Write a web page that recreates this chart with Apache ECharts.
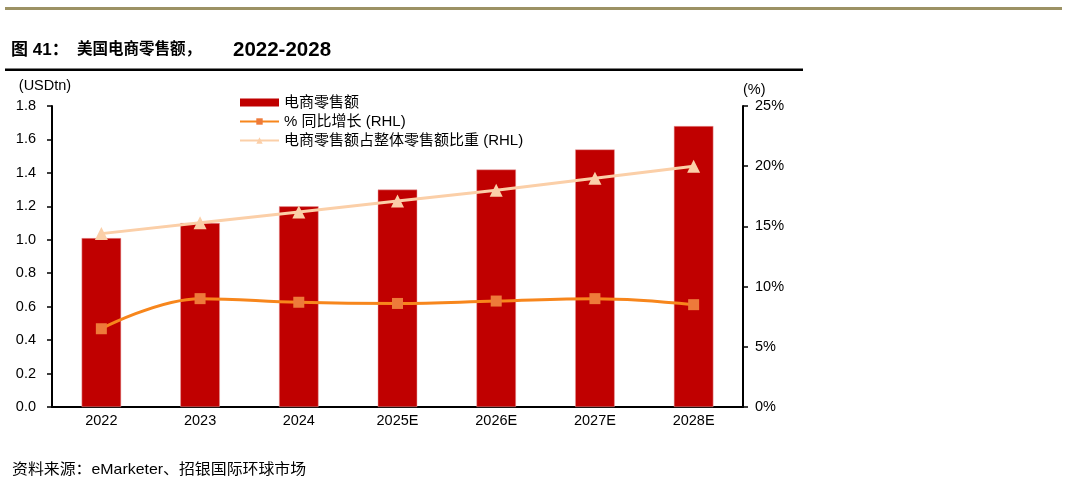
<!DOCTYPE html>
<html>
<head>
<meta charset="utf-8">
<script src="https://cdn.jsdelivr.net/npm/echarts@6/dist/echarts.min.js"></script>
<style>
  html, body { margin: 0; padding: 0; background: #fff; }
  #chart { width: 1068px; height: 487px; }
</style>
</head>
<body>
<div id="chart"></div>
<script>
// 数据
var years = ['2022', '2023', '2024', '2025E', '2026E', '2027E', '2028E'];
var ecomSales = [1.01, 1.10, 1.20, 1.30, 1.42, 1.54, 1.68];        // USDtn
var yoyGrowth = [6.5, 9.0, 8.7, 8.6, 8.8, 9.0, 8.5];              // %
var shareOfRetail = [14.4, 15.3, 16.2, 17.1, 18.0, 19.0, 20.0];   // %
var leftTicks = { min: 0, max: 1.8, step: 0.2 };
var rightTicks = { min: 0, max: 25, step: 5 };

var FONT = '"Liberation Sans", Arial, "Noto Sans CJK SC", sans-serif';

var myChart = echarts.init(document.getElementById('chart'));

var option = {
  backgroundColor: '#fff',
  animation: false,
  textStyle: { fontFamily: FONT },
  graphic: [
    // 顶部横线
    { type: 'rect', shape: { x: 5, y: 7, width: 1057, height: 3 }, style: { fill: '#9c9264' } },
    // 标题
    { type: 'text', x: 11, y: 50, style: { text: '图 41：', font: 'bold 17px ' + FONT, fill: '#000', textVerticalAlign: 'middle' } },
    { type: 'text', x: 77, y: 50, style: { text: '美国电商零售额，', font: 'bold 15.5px ' + FONT, fill: '#000', textVerticalAlign: 'middle' } },
    { type: 'text', x: 233, y: 50, style: { text: '2022-2028', font: 'bold 20.5px ' + FONT, fill: '#000', textVerticalAlign: 'middle' } },
    // 标题下横线
    { type: 'rect', shape: { x: 5, y: 68.5, width: 798, height: 2.5 }, style: { fill: '#000' } },
    // 资料来源
    {
      type: 'text', x: 12, y: 470, scaleX: 1.06,
      style: { text: '资料来源：eMarketer、招银国际环球市场', font: '15px ' + FONT, fill: '#000', textVerticalAlign: 'middle' }
    }
  ],
  legend: {
    orient: 'vertical',
    left: 234,
    top: 90,
    itemGap: 4,
    itemWidth: 39,
    itemHeight: 8,
    textStyle: { fontSize: 15, color: '#000', fontFamily: FONT },
    data: [
      { name: '电商零售额', icon: 'rect', itemStyle: { borderWidth: 0 } },
      '% 同比增长 (RHL)',
      '电商零售额占整体零售额比重 (RHL)'
    ]
  },
  grid: { left: 52, right: 325, top: 106, bottom: 80 },
  xAxis: {
    type: 'category',
    data: years,
    boundaryGap: true,
    axisLine: { lineStyle: { color: '#000', width: 2 } },
    axisTick: { interval: 0, length: 5, lineStyle: { color: '#000', width: 1.5 } },
    axisLabel: { color: '#000', fontSize: 14.5, margin: 7, fontFamily: FONT }
  },
  yAxis: [
    {
      type: 'value',
      min: leftTicks.min, max: leftTicks.max, interval: leftTicks.step,
      name: '(USDtn)',
      nameLocation: 'end',
      nameGap: 13,
      nameTextStyle: { color: '#000', fontSize: 14.5, align: 'center', padding: [0, 14, 0, 0], fontFamily: FONT },
      axisLine: { show: true, lineStyle: { color: '#000', width: 2 } },
      axisTick: { show: true, length: 5, lineStyle: { color: '#000', width: 1.5 } },
      splitLine: { show: false },
      axisLabel: {
        color: '#000', fontSize: 14.5, margin: 16, fontFamily: FONT,
        formatter: function (v) { return v.toFixed(1); }
      }
    },
    {
      type: 'value',
      position: 'right',
      min: rightTicks.min, max: rightTicks.max, interval: rightTicks.step,
      name: '(%)',
      nameLocation: 'end',
      nameGap: 9,
      nameTextStyle: { color: '#000', fontSize: 14.5, align: 'left', padding: [0, 0, 0, 0], fontFamily: FONT },
      axisLine: { show: true, lineStyle: { color: '#000', width: 2 } },
      axisTick: { show: true, length: 5, lineStyle: { color: '#000', width: 1.5 } },
      splitLine: { show: false },
      axisLabel: { color: '#000', fontSize: 14.5, margin: 12, fontFamily: FONT, formatter: '{value}%' }
    }
  ],
  series: [
    {
      name: '电商零售额',
      type: 'bar',
      data: ecomSales,
      barWidth: '40%',
      itemStyle: { color: '#C00000', borderColor: '#e9a0a0', borderWidth: 0.5 }
    },
    {
      name: '% 同比增长 (RHL)',
      type: 'line',
      yAxisIndex: 1,
      data: yoyGrowth,
      smooth: 0.4,
      symbol: 'rect',
      symbolSize: 11,
      lineStyle: { color: '#F7861C', width: 3 },
      itemStyle: { color: '#EE7A3A' }
    },
    {
      name: '电商零售额占整体零售额比重 (RHL)',
      type: 'line',
      yAxisIndex: 1,
      data: shareOfRetail,
      symbol: 'triangle',
      symbolSize: 13,
      lineStyle: { color: '#FBCFA8', width: 3 },
      itemStyle: { color: '#FBCFA8' }
    }
  ]
};

myChart.setOption(option);
</script>
</body>
</html>
